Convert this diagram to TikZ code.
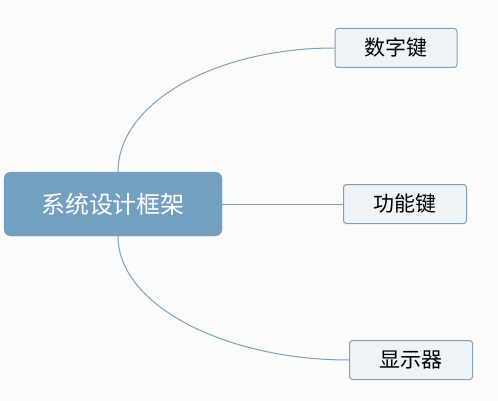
\documentclass[tikz,border=0pt]{standalone}
\usepackage{fontspec}
\newfontfamily\cjk{Noto Sans CJK SC}
\definecolor{bgcol}{HTML}{FBFBFB}
\definecolor{rootcol}{HTML}{739FC0}
\definecolor{leafcol}{HTML}{EEF3F7}
\definecolor{edgecol}{HTML}{7AA0BD}
\begin{document}
\begin{tikzpicture}[x=1pt, y=-1pt,
    rootbox/.style={draw=rootcol, fill=rootcol, rounded corners=7pt, text=white,
      minimum width=218pt, minimum height=64pt, font=\cjk\fontsize{24}{28}\selectfont},
    leafbox/.style={draw=edgecol, fill=leafcol, rounded corners=3pt, text=black,
      line width=1pt, minimum width=122pt, minimum height=39pt,
      font=\cjk\fontsize{21}{24}\selectfont},
    link/.style={draw=edgecol, line width=1pt}]

  % background and size
  \fill[bgcol] (0,0) rectangle (498,401);
  \useasboundingbox (0,0) rectangle (498,401);

  %===== root =====%
  \node[rootbox] (root) at (113,204) {系统设计框架};

  %===== leaves =====%
  \node[leafbox] (keys) at (396,48) {数字键};
  \node[leafbox, minimum width=123pt] (func) at (405,204) {功能键};
  \node[leafbox, minimum width=123pt] (disp) at (411,360) {显示器};

  % start points of the curves
  \coordinate (top) at ([xshift=5pt]root.north);
  \coordinate (bot) at ([xshift=5pt]root.south);

  %===== connectors =====%
  \draw[link] (top) .. controls (118,103) and (215,48) .. (keys.west);
  \draw[link] (root.east) -- (func.west);
  \draw[link] (bot) .. controls (118,305) and (225,360) .. (disp.west);
\end{tikzpicture}
\end{document}
